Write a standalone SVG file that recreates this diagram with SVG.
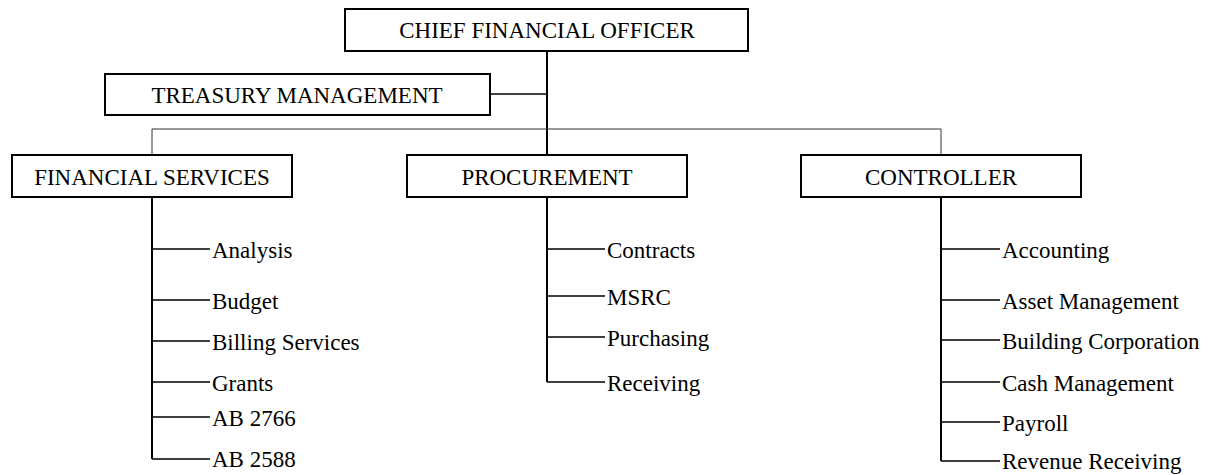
<svg xmlns="http://www.w3.org/2000/svg" width="1211" height="475" viewBox="0 0 1211 475">
<style>
.box{fill:#fff;stroke:#000;stroke-width:2}
.t{font-family:"Liberation Serif","Times New Roman",serif;font-size:23px;fill:#000}
.c{text-anchor:middle}
.ln{stroke:#000;stroke-width:2;fill:none}
.th{stroke:#000;stroke-width:1.3;fill:none}
.bus{stroke:#333;stroke-width:1;fill:none}
</style>
<rect width="1211" height="475" fill="#fff"/>
<g id="connectors">
<path class="ln" d="M547 51V155"/>
<path class="th" d="M490 94H547"/>
<path class="bus" d="M152 129H941M152 129V155M941 129V155"/>
<path class="ln" d="M152 197V459M547 197V382M941 197V461"/>
<path class="th" d="M152 249H210M152 300H210M152 341H210M152 382H210M152 417H210M152 459H210"/>
<path class="th" d="M547 249H605M547 296H605M547 337H605M547 382H605"/>
<path class="th" d="M941 249H1000M941 300H1000M941 340H1000M941 382H1000M941 422H1000M941 461H1000"/>
</g>
<g id="cfo"><rect class="box" x="345" y="9" width="403" height="42"/><text class="t c" x="547" y="38">CHIEF FINANCIAL OFFICER</text></g>
<g id="treasury"><rect class="box" x="105" y="74" width="385" height="41"/><text class="t c" x="297" y="103">TREASURY MANAGEMENT</text></g>
<g id="financial-services"><rect class="box" x="12" y="155" width="280" height="42"/><text class="t c" x="152" y="185">FINANCIAL SERVICES</text></g>
<g id="procurement"><rect class="box" x="407" y="155" width="280" height="42"/><text class="t c" x="547" y="185">PROCUREMENT</text></g>
<g id="controller"><rect class="box" x="801" y="155" width="280" height="42"/><text class="t c" x="941" y="185">CONTROLLER</text></g>
<g id="fs-items">
<text class="t" x="212" y="258">Analysis</text>
<text class="t" x="212" y="309">Budget</text>
<text class="t" x="212" y="350">Billing Services</text>
<text class="t" x="212" y="391">Grants</text>
<text class="t" x="212" y="426">AB 2766</text>
<text class="t" x="212" y="467">AB 2588</text>
</g>
<g id="proc-items">
<text class="t" x="607" y="258">Contracts</text>
<text class="t" x="607" y="305">MSRC</text>
<text class="t" x="607" y="346">Purchasing</text>
<text class="t" x="607" y="391">Receiving</text>
</g>
<g id="ctrl-items">
<text class="t" x="1002" y="258">Accounting</text>
<text class="t" x="1002" y="309">Asset Management</text>
<text class="t" x="1002" y="349">Building Corporation</text>
<text class="t" x="1002" y="391">Cash Management</text>
<text class="t" x="1002" y="431">Payroll</text>
<text class="t" x="1002" y="469">Revenue Receiving</text>
</g>
</svg>
